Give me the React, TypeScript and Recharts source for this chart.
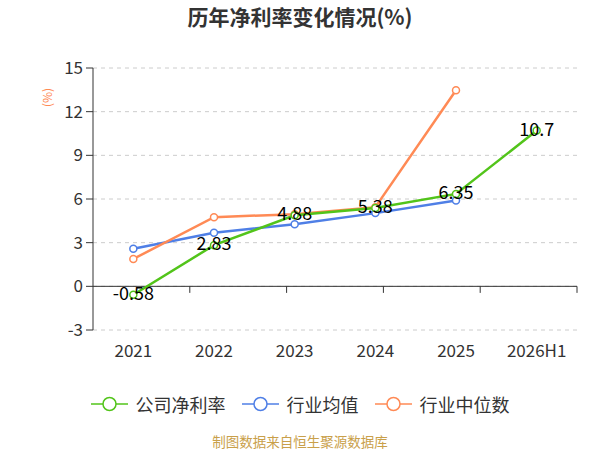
import React from 'react';
import {
  LineChart,
  Line,
  XAxis,
  YAxis,
  CartesianGrid,
  ReferenceLine,
  LabelList,
} from 'recharts';

const years = ['2021', '2022', '2023', '2024', '2025', '2026H1'];
const companyMargin = [-0.58, 2.83, 4.88, 5.38, 6.35, 10.7];
const industryAvg = [2.58, 3.68, 4.27, 5.03, 5.89, null];
const industryMedian = [1.88, 4.75, 4.96, 5.44, 13.47, null];
const yTicks = [-3, 0, 3, 6, 9, 12, 15];

const GREEN = '#52c41a';
const BLUE = '#4f7fe6';
const ORANGE = '#ff8a55';
const FONT = '"Noto Sans CJK SC", "Noto Sans", sans-serif';

const data = years.map((year, i) => ({
  year,
  company: companyMargin[i],
  avg: industryAvg[i],
  median: industryMedian[i],
}));

const legendItems = [
  { name: '公司净利率', color: GREEN },
  { name: '行业均值', color: BLUE },
  { name: '行业中位数', color: ORANGE },
];

function LegendRow() {
  return (
    <div
      style={{
        position: 'absolute',
        top: 391,
        width: 600,
        display: 'flex',
        justifyContent: 'center',
        alignItems: 'center',
      }}
    >
      {legendItems.map((item) => (
        <div key={item.name} style={{ display: 'flex', alignItems: 'center', margin: '0 8px' }}>
          <svg width={37} height={16} style={{ marginRight: 8 }}>
            <line x1={0} y1={8} x2={37} y2={8} stroke={item.color} strokeWidth={1.5} />
            <circle cx={18.5} cy={8} r={6.5} fill="#fff" stroke={item.color} strokeWidth={1.5} />
          </svg>
          <span style={{ fontSize: 18, color: '#333' }}>{item.name}</span>
        </div>
      ))}
    </div>
  );
}

function renderValueLabel(props: any) {
  const { x, y, value } = props;
  return (
    <text
      x={x}
      y={y - 3}
      textAnchor="middle"
      dominantBaseline="central"
      fontSize={18}
      fill="#000"
      fontFamily={FONT}
    >
      {value}
    </text>
  );
}

const boundaryTicks = [1, 2, 3, 4, 5, 6];

export default function App() {
  return (
    <div style={{ position: 'absolute', left: 0, top: 0, width: 600, height: 450, background: '#fff', fontFamily: FONT }}>
      <div
        style={{
          position: 'absolute',
          top: 1,
          width: 600,
          textAlign: 'center',
          fontSize: 21,
          fontWeight: 'bold',
          color: '#333',
        }}
      >
        历年净利率变化情况(%)
      </div>
      <LineChart
        width={600}
        height={450}
        data={data}
        margin={{ top: 68, right: 23, left: 0, bottom: 90 }}
      >
        <CartesianGrid vertical={false} strokeDasharray="4 4" stroke="#ccc" />
        <XAxis
          dataKey="year"
          axisLine={false}
          tickLine={false}
          tickMargin={9}
          height={30}
          padding={{ left: 40.33, right: 40.33 }}
          tick={{ fontSize: 17, fill: '#333', fontFamily: FONT }}
          interval={0}
        />
        <XAxis xAxisId="grid" type="number" domain={[0, 6]} hide />
        <YAxis
          domain={[-3, 15]}
          ticks={yTicks}
          width={93}
          axisLine={{ stroke: '#333' }}
          tickLine={{ stroke: '#333' }}
          tickSize={7}
          tickMargin={3}
          tick={{ fontSize: 17, fill: '#333', fontFamily: FONT }}
          label={{
            value: '(%)',
            angle: -90,
            position: 'insideTopLeft',
            dx: 38,
            dy: 34,
            fill: ORANGE,
            fontSize: 12,
          }}
        />
        <ReferenceLine y={0} stroke="#333" strokeWidth={1} />
        {boundaryTicks.map((b) => (
          <ReferenceLine
            key={b}
            xAxisId="grid"
            segment={[
              { x: b, y: 0 },
              { x: b, y: -0.45 },
            ]}
            stroke="#333"
          />
        ))}
        <Line
          dataKey="avg"
          name="行业均值"
          stroke={BLUE}
          strokeWidth={2.5}
          dot={{ r: 3.5, fill: '#fff', stroke: BLUE, strokeWidth: 1.5 }}
          isAnimationActive={false}
        />
        <Line
          dataKey="median"
          name="行业中位数"
          stroke={ORANGE}
          strokeWidth={2.5}
          dot={{ r: 3.5, fill: '#fff', stroke: ORANGE, strokeWidth: 1.5 }}
          isAnimationActive={false}
        />
        <Line
          dataKey="company"
          name="公司净利率"
          stroke={GREEN}
          strokeWidth={2.5}
          dot={{ r: 3.5, fill: '#fff', stroke: GREEN, strokeWidth: 1.5 }}
          isAnimationActive={false}
        >
          <LabelList dataKey="company" content={renderValueLabel} />
        </Line>
      </LineChart>
      <LegendRow />
      <div
        style={{
          position: 'absolute',
          top: 431,
          width: 600,
          textAlign: 'center',
          fontSize: 13.5,
          color: '#c9a04a',
        }}
      >
        制图数据来自恒生聚源数据库
      </div>
    </div>
  );
}
